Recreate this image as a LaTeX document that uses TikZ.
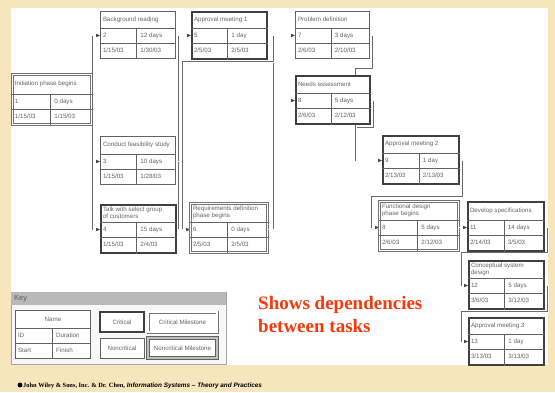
\documentclass[tikz,border=0pt]{standalone}
\usepackage{fontspec}
\setmainfont{Liberation Sans}
\newfontfamily\timesf{Liberation Serif}
\usetikzlibrary{calc}

\definecolor{parch}{RGB}{245,230,188}
\definecolor{ink}{RGB}{100,100,100}
\definecolor{frame}{RGB}{70,70,70}
\definecolor{alert}{RGB}{250,55,10}

\tikzset{
  cell/.style={font=\fontsize{6.2}{7.2}\selectfont, text=ink, inner sep=0pt},
  boxtitle/.style={cell, align=left},
  cellrule/.style={draw=frame!85, line width=0.6pt},
  noncrit/.style={rectangle, draw=frame!85, line width=0.9pt, fill=white, inner sep=0pt},
  crit/.style={rectangle, draw=black!75, line width=1.8pt, fill=white, inner sep=0pt},
  milestone/.style={rectangle, draw=frame!75, double=white, double distance=1.2pt, line width=0.9pt, fill=white, inner sep=0pt},
  heavyms/.style={rectangle, draw=frame!85, double=gray!50, double distance=1.6pt, line width=0.9pt, fill=white, inner sep=0pt},
  conn/.style={draw=frame!80, double=white, double distance=0.8pt, line width=0.5pt},
}

% task box: name, frame style, left, top, width, header height, title
\newcommand\taskbox[7]{%
  \node[#2, anchor=north west, minimum width=#5pt, minimum height=#6pt+30pt] (#1) at (#3,#4) {};
  \draw[cellrule] ($(#1.north west)+(0,#6)$) -- ($(#1.north east)+(0,#6)$);
  \draw[cellrule] ($(#1.north west)+(0,#6+15)$) -- ($(#1.north east)+(0,#6+15)$);
  \draw[cellrule] ($(#1.north west)+(0.49*#5,#6)$) -- ($(#1.south west)+(0.49*#5,0)$);
  \coordinate (#1-in) at ($(#1.north west)+(0,#6+7.5)$);
  \coordinate (#1-out) at ($(#1.north east)+(0,#6+7.5)$);
  \coordinate (#1-split) at ($(#1.north west)+(0.49*#5,#6+7.5)$);
  \node[boxtitle, anchor=west] (#1-t) at ($(#1.north west)+(2.8,#6/2)$) {#7};
}
% task data: name, id, duration, start, finish
\newcommand\taskdata[5]{%
  \node[cell, anchor=west] (#1-id) at ($(#1-in)+(2.8,0)$) {#2};
  \node[cell, anchor=west] (#1-du) at ($(#1-split)+(3.5,0)$) {#3};
  \node[cell, anchor=west] (#1-st) at ($(#1-in)+(2.8,15)$) {#4};
  \node[cell, anchor=west] (#1-fi) at ($(#1-split)+(3.5,15)$) {#5};
}
% arrow head pointing right, ending at the given point
\newcommand\tipat[1]{\fill[frame] (#1) -- ++(-3.8,-1.7) -- ++(0,3.4) -- cycle;}

\begin{document}
\begin{tikzpicture}[x=1pt,y=-1pt]
\fill[parch] (0,0) rectangle (555,392);
\useasboundingbox (0,0) rectangle (555,392);
\fill[white] (11,8) rectangle (548,365);

% tasks
\taskbox{b1}{milestone}{12}{74}{79}{20}{Initiation phase begins}
\taskdata{b1}{1}{0 days}{1/15/03}{1/15/03}
\taskbox{b2}{noncrit}{100}{11}{75}{17}{Background reading}
\taskdata{b2}{2}{12 days}{1/15/03}{1/30/03}
\taskbox{b3}{noncrit}{100}{136}{75}{18}{Conduct feasibility study}
\taskdata{b3}{3}{10 days}{1/15/03}{1/28/03}
\taskbox{b4}{crit}{100}{204}{75}{18}{Talk with select group\\of customers}
\taskdata{b4}{4}{15 days}{1/15/03}{2/4/03}
\taskbox{b5}{crit}{191}{11}{75}{17}{Approval meeting 1}
\taskdata{b5}{5}{1 day}{2/5/03}{2/5/03}
\taskbox{b6}{milestone}{190}{203}{77}{19}{Requirements definition\\phase begins}
\taskdata{b6}{6}{0 days}{2/5/03}{2/5/03}
\taskbox{b7}{noncrit}{295}{11}{74}{17}{Problem definition}
\taskdata{b7}{7}{3 days}{2/6/03}{2/10/03}
\taskbox{b8}{crit}{295}{75}{74}{18}{Needs assessment}
\taskdata{b8}{8}{5 days}{2/6/03}{2/12/03}
\taskbox{b9}{crit}{382}{135}{76}{18}{Approval meeting 2}
\taskdata{b9}{9}{1 day}{2/13/03}{2/13/03}
\taskbox{b10}{milestone}{379}{201}{79}{19}{Functional design\\phase begins}
\taskdata{b10}{8}{5 days}{2/6/03}{2/12/03}
\taskbox{b11}{crit}{467}{201}{76}{19}{Develop specifications}
\taskdata{b11}{11}{14 days}{2/14/03}{3/5/03}
\taskbox{b12}{crit}{468}{260}{75}{18}{Conceptual system\\design}
\taskdata{b12}{12}{5 days}{3/6/03}{3/12/03}
\taskbox{b13}{crit}{468}{317}{75}{17}{Approval meeting 3}
\taskdata{b13}{13}{1 day}{3/13/03}{3/13/03}

% dependencies
\coordinate (j1) at (93,0);
\draw[conn] (b1-out) -- (b1-out -| j1);
\draw[conn] (j1 |- b2-in) -- (j1 |- b4-in);
\foreach \t in {b2,b3,b4} {\draw[conn] (j1 |- \t-in) -- (\t-in); \tipat{\t-in}}

\coordinate (j2) at (179,0);
\draw[conn] (j2 |- b2-out) -- (j2 |- b6-in);
\draw[conn] (b2-out) -- (b5-in); \tipat{b5-in}
\draw[conn] (b3-out) -- (j2 |- b3-out);
\draw[conn] (b4-out) -- (j2 |- b4-out);

\coordinate (j3) at (274,0);
\coordinate (j4) at (183,62);
\draw[conn] (j3 |- b5-out) -- (j3 |- b6-out);
\draw[conn] (j3 |- j4) -- (j4) -- (j4 |- b6-in);
\draw[conn] (j2 |- b6-in) -- (b6-in); \tipat{b6-in}
\draw[conn] (b5-out) -- (b7-in); \tipat{b7-in}
\draw[conn] (j3 |- b8-in) -- (b8-in); \tipat{b8-in}
\draw[conn] (b6-out) -- (j3 |- b6-out);

\coordinate (k1) at (373,69);
\coordinate (k2) at (356,69);
\draw[conn] (b7-out) -| (k1) -- (k2) -- (k2 |- b8.north);

\coordinate (k3) at (374,128);
\coordinate (k4) at (356,128);
\draw[conn] (b8-out) -| (k3) -- (k4);
\draw[conn] (k4 |- b8.south) -- (k4 |- b9-in) -- (b9-in); \tipat{b9-in}

\coordinate (k5) at (463,197);
\coordinate (k6) at (372,197);
\draw[conn] (b9-out) -| (k5) -- (k6) |- (b10-in); \tipat{b10-in}

\draw[conn] (b10-out) -- (b11-in); \tipat{b11-in}

\coordinate (k7) at (548,253);
\coordinate (k8) at (462,253);
\draw[conn] (b11-out) -| (k7) -- (k8) |- (b12-in); \tipat{b12-in}

\coordinate (k9) at (548,312);
\coordinate (k10) at (462,312);
\draw[conn] (b12-out) -| (k9) -- (k10) |- (b13-in); \tipat{b13-in}

% key
\node[rectangle, draw=gray!70, line width=0.6pt, fill=gray!6, anchor=north west,
      minimum width=215pt, minimum height=72pt, inner sep=0pt] (key) at (11,292) {};
\node[rectangle, fill=gray!55, anchor=north west, minimum width=215pt, minimum height=13pt,
      inner sep=0pt] (keyhead) at (11,292) {};
\node[cell, text=frame!90, font=\fontsize{7.5}{8}\selectfont, anchor=west] (keylabel)
      at ($(keyhead.west)+(3,0)$) {Key};

\node[rectangle, draw=frame!85, line width=1pt, fill=white, anchor=north west,
      minimum width=75pt, minimum height=48pt, inner sep=0pt] (keytab) at (15,310) {};
\draw[cellrule, line width=0.8pt] ($(keytab.north west)+(0,18)$) -- ($(keytab.north east)+(0,18)$);
\draw[cellrule, line width=0.8pt] ($(keytab.north west)+(0,33)$) -- ($(keytab.north east)+(0,33)$);
\draw[cellrule, line width=0.8pt] ($(keytab.north west)+(37,18)$) -- ($(keytab.south west)+(37,0)$);
\node[cell] (kname) at ($(keytab.north)+(0,9)$) {Name};
\node[cell, anchor=west] (kid) at ($(keytab.north west)+(2.8,25.5)$) {ID};
\node[cell, anchor=west] (kdur) at ($(keytab.north west)+(41,25.5)$) {Duration};
\node[cell, anchor=west] (kstart) at ($(keytab.north west)+(2.8,40.5)$) {Start};
\node[cell, anchor=west] (kfin) at ($(keytab.north west)+(41,40.5)$) {Finish};

\node[crit, minimum width=44pt, minimum height=20pt, cell] (kcrit) at (122,322) {Critical};
\node[milestone, minimum width=69pt, minimum height=20pt, cell] (kcms) at (182.5,322) {Critical Milestone};
\node[noncrit, minimum width=44pt, minimum height=20pt, cell] (knon) at (122,348) {Noncritical};
\node[heavyms, minimum width=69pt, minimum height=20pt, cell] (knms) at (182.5,348) {Noncritical Milestone};

% caption
\node[anchor=base west, inner sep=0pt, text=alert,
      font=\timesf\bfseries\fontsize{19}{23}\selectfont] (cap1) at (258,309) {Shows dependencies};
\node[anchor=base west, inner sep=0pt, text=alert,
      font=\timesf\bfseries\fontsize{19}{23}\selectfont] (cap2) at (258,332) {between tasks};

% footer
\fill[black] (20,385) circle (2.4);
\node[anchor=base west, inner sep=0pt, font=\fontsize{6.4}{7.5}\selectfont] (foot) at (23,387)
  {{\timesf\bfseries John Wiley \& Sons, Inc. \& Dr. Chen,} {\bfseries\itshape Information Systems -- Theory and Practices}};
\end{tikzpicture}
\end{document}
